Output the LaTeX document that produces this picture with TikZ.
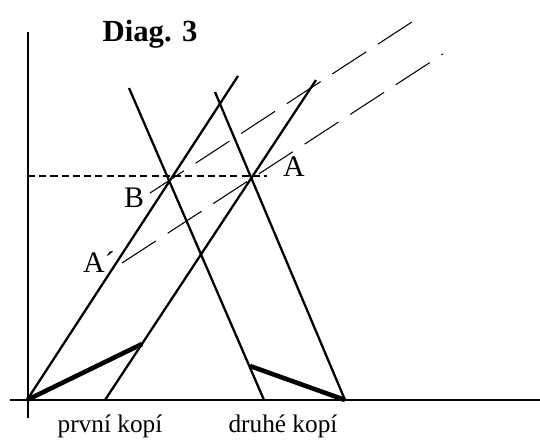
\documentclass[tikz,border=0pt]{standalone}
\usepackage{fontspec}
\setmainfont{Liberation Serif}
\begin{document}
\begin{tikzpicture}[x=0.02cm, y=-0.02cm, line width=1.3pt,
	level/.style={line width=0.6pt, dash pattern=on 4pt off 2.4pt},
	ray/.style={line width=0.6pt, dash pattern=on 23pt off 8pt},
	rod/.style={line width=2.6pt},
	lbl/.style={font=\fontsize{17}{17}\selectfont}]
		\useasboundingbox (0,0) rectangle (540,439);
		
		% Axes
		\coordinate (xl) at (10,400);
		\coordinate (xr) at (540,400);
		\coordinate (yb) at (28,418);
		\coordinate (yt) at (28,32);
		\draw (xl) -- (xr);
		\draw (yb) -- (yt);
		
		% First copy
		\coordinate (O) at (27,400);
		\coordinate (P) at (105,400);
		\coordinate (T1) at (238,76);
		\coordinate (T2) at (316,80);
		\draw (O) -- (T1);
		\draw (P) -- (T2);
		
		% Second copy
		\coordinate (Q1) at (264,400);
		\coordinate (Q2) at (345,400);
		\coordinate (U1) at (129,88);
		\coordinate (U2) at (215,92);
		\draw (U1) -- (Q1);
		\draw (U2) -- (Q2);
		
		% Rods
		\coordinate (R1) at (142,344);
		\coordinate (R2) at (250,366);
		\draw[rod] (O) -- (R1);
		\draw[rod] (R2) -- (Q2);
		
		% Level of A and B
		\coordinate (yA) at (28,176);
		\coordinate (lv) at (267,176);
		\draw[level] (yA) -- (lv);
		
		% Rays
		\coordinate (sB) at (150,193);
		\coordinate (eB) at (418,18);
		\coordinate (sA) at (122,263);
		\coordinate (eA) at (443,54);
		\draw[ray] (sB) -- (eB);
		\draw[ray] (sA) -- (eA);
		
		% Labels
		\node[font=\bfseries\fontsize{17.5}{18}\selectfont] (title) at (150,34) {Diag. 3};
		\node[lbl] (B) at (134,198) {B};
		\node[lbl] (A) at (294,167) {A};
		\node[lbl] (A') at (99,262) {A´};
		\node[font=\fontsize{14.4}{15}\selectfont] (first) at (110,426) {první kopí};
		\node[font=\fontsize{14.4}{15}\selectfont] (second) at (283,426) {druhé kopí};
	\end{tikzpicture}
\end{document}
